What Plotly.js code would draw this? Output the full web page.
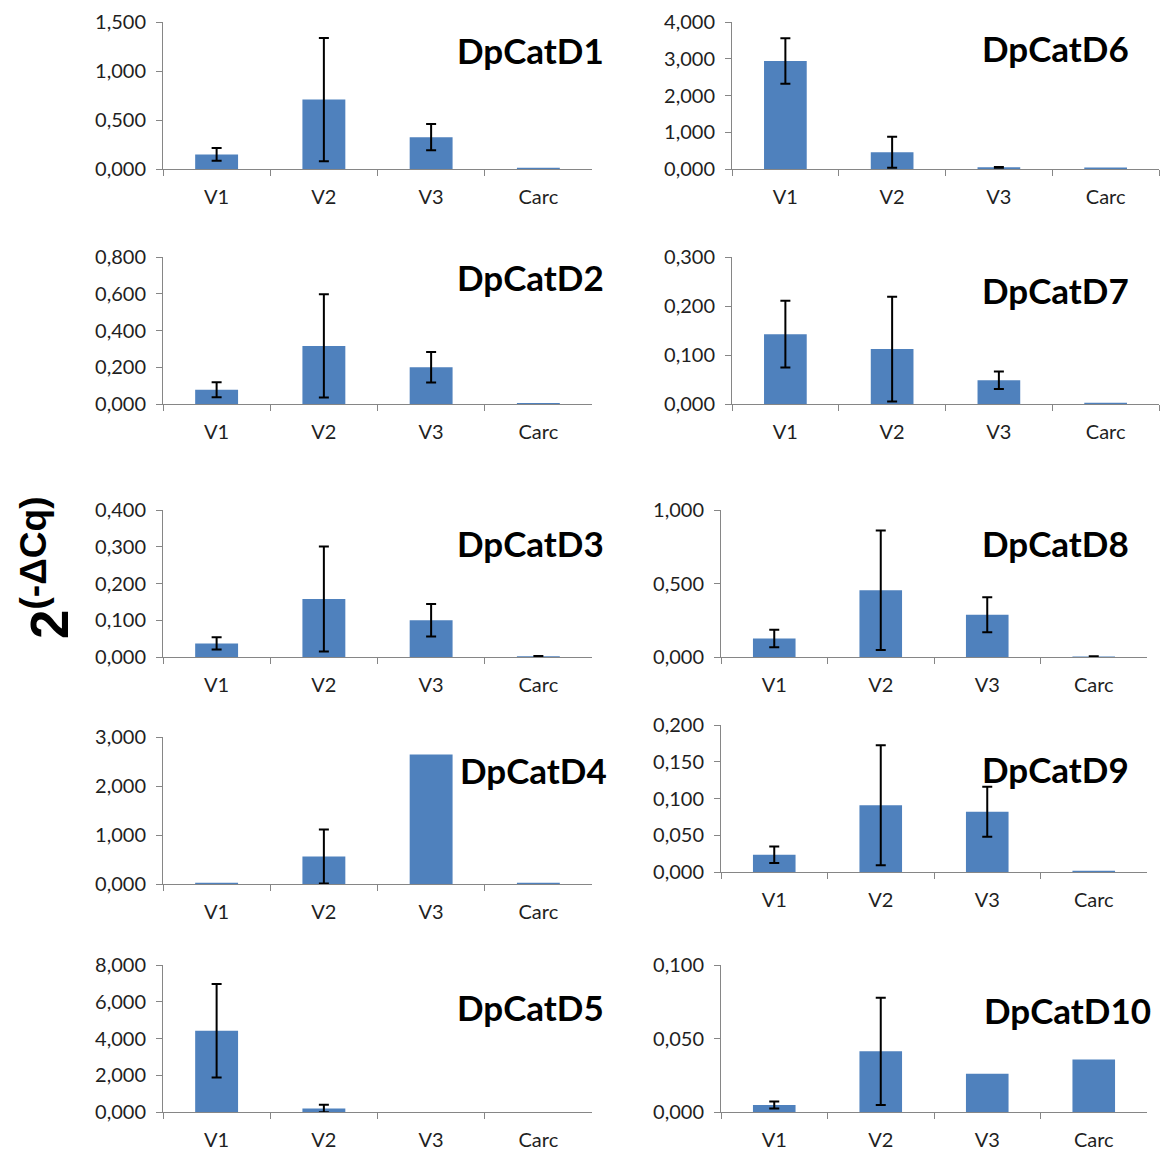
<!DOCTYPE html>
<html>
<head>
<meta charset="utf-8">
<script src="https://cdn.plot.ly/plotly-3.0.1.min.js"></script>
<style>
  html, body { margin: 0; padding: 0; background: #fff; }
  #chart { width: 1170px; height: 1151px; }
</style>
</head>
<body>
<div id="chart"></div>
<script>
// ---------------- DATA ----------------
const categories = ['V1', 'V2', 'V3', 'Carc'];
const geneNames = ['DpCatD1', 'DpCatD2', 'DpCatD3', 'DpCatD4', 'DpCatD5',
                   'DpCatD6', 'DpCatD7', 'DpCatD8', 'DpCatD9', 'DpCatD10'];

// null = no error bar drawn
const d1Values = [0.149, 0.708, 0.325, 0.012];
const d1Errors = [0.066, 0.628, 0.134, null];
const d2Values = [0.078, 0.316, 0.200, 0.006];
const d2Errors = [0.041, 0.281, 0.083, null];
const d3Values = [0.037, 0.158, 0.100, 0.002];
const d3Errors = [0.0165, 0.143, 0.044, 0.001];
const d4Values = [0.025, 0.560, 2.645, 0.025];
const d4Errors = [null, 0.550, null, null];
const d5Values = [4.42, 0.19, 0.004, 0.003];
const d5Errors = [2.54, 0.20, null, null];
const d6Values = [2.94, 0.457, 0.045, 0.040];
const d6Errors = [0.618, 0.423, 0.012, null];
const d7Values = [0.1425, 0.112, 0.0485, 0.0027];
const d7Errors = [0.068, 0.107, 0.018, null];
const d8Values = [0.126, 0.454, 0.287, 0.003];
const d8Errors = [0.059, 0.406, 0.119, 0.002];
const d9Values = [0.0236, 0.0908, 0.0820, 0.0018];
const d9Errors = [0.0112, 0.0816, 0.0341, null];
const d10Values = [0.0048, 0.0413, 0.0261, 0.0357];
const d10Errors = [0.0024, 0.0365, null, null];

// y tick values for each panel
const d1Ticks = [0, 0.5, 1.0, 1.5];
const d2Ticks = [0, 0.2, 0.4, 0.6, 0.8];
const d3Ticks = [0, 0.1, 0.2, 0.3, 0.4];
const d4Ticks = [0, 1, 2, 3];
const d5Ticks = [0, 2, 4, 6, 8];
const d6Ticks = [0, 1, 2, 3, 4];
const d7Ticks = [0, 0.1, 0.2, 0.3];
const d8Ticks = [0, 0.5, 1.0];
const d9Ticks = [0, 0.05, 0.10, 0.15, 0.20];
const d10Ticks = [0, 0.05, 0.10];

const yLabel = '2<sup>(-ΔCq)</sup>';

// ---------------- LAYOUT GEOMETRY (pixels) ----------------
const W = 1170, H = 1151;
// [x0, x1, yTop, yBottom, titleRight, titleCenterY]
const geom = [
  [163, 592, 22, 169, 606, 50],
  [163, 592, 257, 404, 606, 277],
  [163, 592, 510, 657, 606, 543],
  [163, 592, 737, 884, 609, 770],
  [163, 592, 965, 1112, 606, 1007],
  [732, 1159, 22, 169, 1131, 48],
  [732, 1159, 257, 404, 1131, 290],
  [721, 1147, 510, 657, 1131, 543],
  [721, 1147, 725, 872, 1131, 769],
  [721, 1147, 965, 1112, 1153, 1010]
];

const valuesList = [d1Values, d2Values, d3Values, d4Values, d5Values,
                    d6Values, d7Values, d8Values, d9Values, d10Values];
const errorsList = [d1Errors, d2Errors, d3Errors, d4Errors, d5Errors,
                    d6Errors, d7Errors, d8Errors, d9Errors, d10Errors];
const ticksList = [d1Ticks, d2Ticks, d3Ticks, d4Ticks, d5Ticks,
                   d6Ticks, d7Ticks, d8Ticks, d9Ticks, d10Ticks];

const px = x => x / W;
const py = y => 1 - y / H;

const AXIS_COLOR = '#868686';
const TICK_FONT = {family: 'Lato, "Open Sans", sans-serif', size: 20, color: '#1f1f1f'};

const traces = [];
const layout = {
  width: W, height: H,
  margin: {l: 0, r: 0, t: 0, b: 0},
  paper_bgcolor: '#ffffff',
  plot_bgcolor: '#ffffff',
  showlegend: false,
  bargap: 0.6,
  annotations: []
};

for (let i = 0; i < 10; i++) {
  const s = i === 0 ? '' : String(i + 1);
  const g = geom[i];
  const ticks = ticksList[i];
  traces.push({
    type: 'bar',
    x: categories,
    y: valuesList[i],
    xaxis: 'x' + s,
    yaxis: 'y' + s,
    marker: {color: '#4F81BD', line: {width: 0}},
    error_y: {
      type: 'data',
      array: errorsList[i].map(e => (e === null ? NaN : e)),
      visible: true,
      color: '#000000', thickness: 2, width: 5
    },
    hoverinfo: 'none'
  });
  layout['xaxis' + s] = {
    domain: [px(g[0]), px(g[1])],
    anchor: 'y' + s,
    type: 'category',
    range: [-0.5, 3.5],
    tickson: 'boundaries',
    ticks: 'outside', ticklen: 6, tickwidth: 1, tickcolor: AXIS_COLOR,
    showline: true, linecolor: AXIS_COLOR, linewidth: 1,
    showgrid: false, zeroline: false,
    tickfont: TICK_FONT,
    ticklabelstandoff: 10,
    fixedrange: true
  };
  layout['yaxis' + s] = {
    domain: [py(g[3]), py(g[2])],
    anchor: 'x' + s,
    range: [0, ticks[ticks.length - 1]],
    tickmode: 'array',
    tickvals: ticks,
    ticktext: ticks.map(v => v.toFixed(3).replace('.', ',')),
    ticks: 'outside', ticklen: 6, tickwidth: 1, tickcolor: AXIS_COLOR,
    showline: true, linecolor: AXIS_COLOR, linewidth: 1,
    showgrid: false, zeroline: false,
    tickfont: TICK_FONT,
    ticklabelstandoff: 6,
    fixedrange: true
  };
  layout.annotations.push({
    text: geneNames[i],
    xref: 'paper', yref: 'paper',
    x: px(g[4]), y: py(g[5]),
    xanchor: 'right', yanchor: 'middle',
    showarrow: false,
    font: {family: 'Lato, "Open Sans", sans-serif', size: 35, color: '#000', weight: 'bold'}
  });
}

layout.annotations.push({
  text: yLabel,
  xref: 'paper', yref: 'paper',
  x: px(45), y: py(568),
  xanchor: 'center', yanchor: 'middle',
  textangle: -90,
  showarrow: false,
  font: {family: '"Liberation Sans", Arial, sans-serif', size: 53, color: '#000', weight: 'bold'}
});

Plotly.newPlot('chart', traces, layout, {staticPlot: true, displayModeBar: false});
</script>
</body>
</html>
